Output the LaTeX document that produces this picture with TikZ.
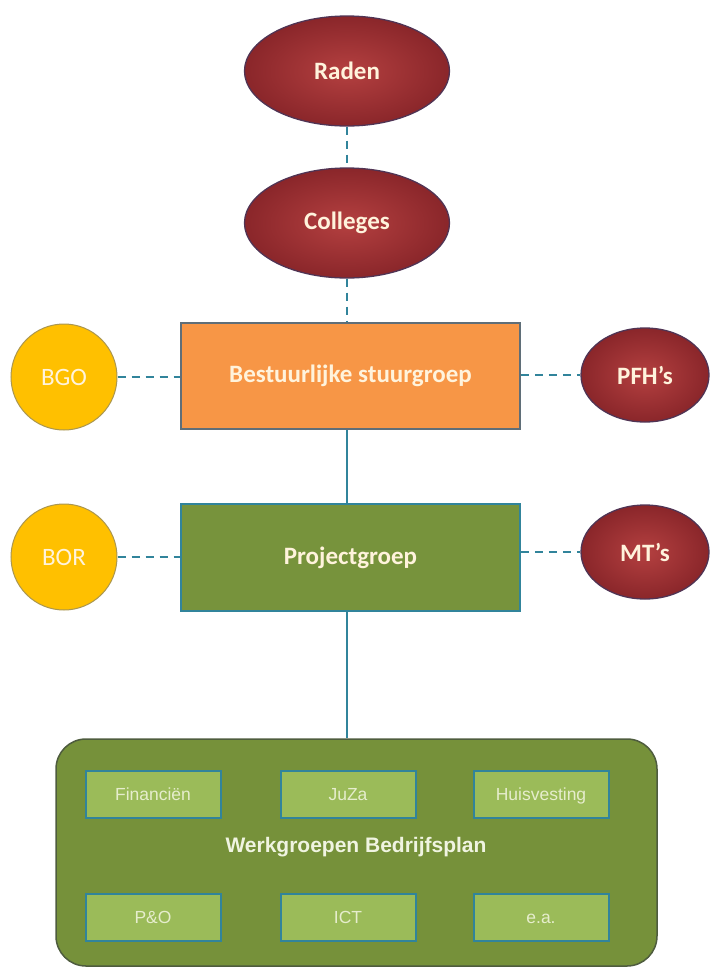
\documentclass[tikz,border=0pt]{standalone}
\usepackage{fontspec}
\setmainfont{Carlito}
\newfontfamily\arialfont{Liberation Sans}
\usetikzlibrary{positioning, shapes.geometric}
\definecolor{raadin}{RGB}{180,64,64}
\definecolor{raadout}{RGB}{138,38,42}
\definecolor{raadedge}{RGB}{80,52,84}
\definecolor{adviesyellow}{RGB}{255,192,0}
\definecolor{adviesedge}{RGB}{170,150,80}
\definecolor{stuurorange}{RGB}{247,150,70}
\definecolor{stuuredge}{RGB}{95,110,120}
\definecolor{olive}{RGB}{119,147,60}
\definecolor{olivedark}{RGB}{118,145,58}
\definecolor{olivelight}{RGB}{155,187,89}
\definecolor{bigedge}{RGB}{78,92,62}
\definecolor{conn}{RGB}{49,132,155}
\definecolor{cream}{RGB}{255,243,220}
\definecolor{palegreen}{RGB}{230,237,205}

\begin{document}
\begin{tikzpicture}[
    x=1pt, y=-1pt,
    every node/.style={font=\bfseries\fontsize{25}{30}\selectfont, text=cream, inner sep=0pt},
    raad/.style={ellipse, draw=raadedge, line width=1.3pt, inner color=raadin,
        outer color=raadout, minimum width=205pt, minimum height=110pt},
    side/.style={ellipse, draw=raadedge, line width=1.3pt, inner color=raadin,
        outer color=raadout, minimum width=128pt, minimum height=94pt},
    advies/.style={circle, draw=adviesedge, line width=1pt, fill=adviesyellow,
        minimum size=106pt, font=\fontsize{25}{30}\selectfont},
    groep/.style={rectangle, line width=1.5pt, minimum width=339pt, minimum height=106pt},
    werkbox/.style={rectangle, draw=conn, line width=2pt, fill=olivelight,
        minimum width=135pt, minimum height=47pt, text=palegreen,
        text height=14pt, text depth=1.5pt,
        font=\arialfont\fontsize{17.5}{21}\selectfont},
    link/.style={draw=conn, line width=2pt, dash pattern=on 8pt off 6pt},
    line/.style={draw=conn, line width=2pt},
]
\useasboundingbox (0,0) rectangle (721,967);
% top: councils
\node[raad] (raden) at (347,71) {Raden};
\node[raad] (colleges) at (347,223) {Colleges};
% steering group with advisory bodies
\node[groep, draw=stuuredge, fill=stuurorange] (stuur) at (350.5,376) {Bestuurlijke stuurgroep};
\node[advies] (bgo) at (64,377) {BGO};
\node[side] (pfh) at (645,375) {PFH's};
% project group
\node[groep, draw=conn, fill=olive, minimum height=107pt] (project) at (350.5,557.5) {Projectgroep};
\node[advies] (bor) at (64,557) {BOR};
\node[side] (mt) at (645,552) {MT's};
% working groups
\node[rectangle, rounded corners=30pt, draw=bigedge, line width=1.5pt, fill=olivedark,
    minimum width=601pt, minimum height=227pt] (werk) at (356.5,852.5) {};
\node[font=\arialfont\bfseries\fontsize{21}{25}\selectfont, text=palegreen!60!white]
    (werklabel) at (356,847) {Werkgroepen Bedrijfsplan};
\node[werkbox] (fin) at (153,794) {Financiën};
\node[werkbox] (juza) at (348,794) {JuZa};
\node[werkbox] (huis) at (541,794) {Huisvesting};
\node[werkbox] (po) at (153,917) {P\&O};
\node[werkbox] (ict) at (348,917) {ICT};
\node[werkbox] (ea) at (541,917) {e.a.};
% connectors
\draw[link] (raden) -- (colleges);
\draw[link] (colleges) -- (colleges |- stuur.north);
\draw[link] (bgo) -- (stuur.west |- bgo);
\draw[link] (stuur.east |- pfh) -- (pfh);
\draw[link] (bor) -- (project.west |- bor);
\draw[link] (project.east |- mt) -- (mt);
\draw[line] (stuur.south -| colleges) -- (project.north -| colleges);
\draw[line] (project.south -| colleges) -- (werk.north -| colleges);
\end{tikzpicture}
\end{document}
